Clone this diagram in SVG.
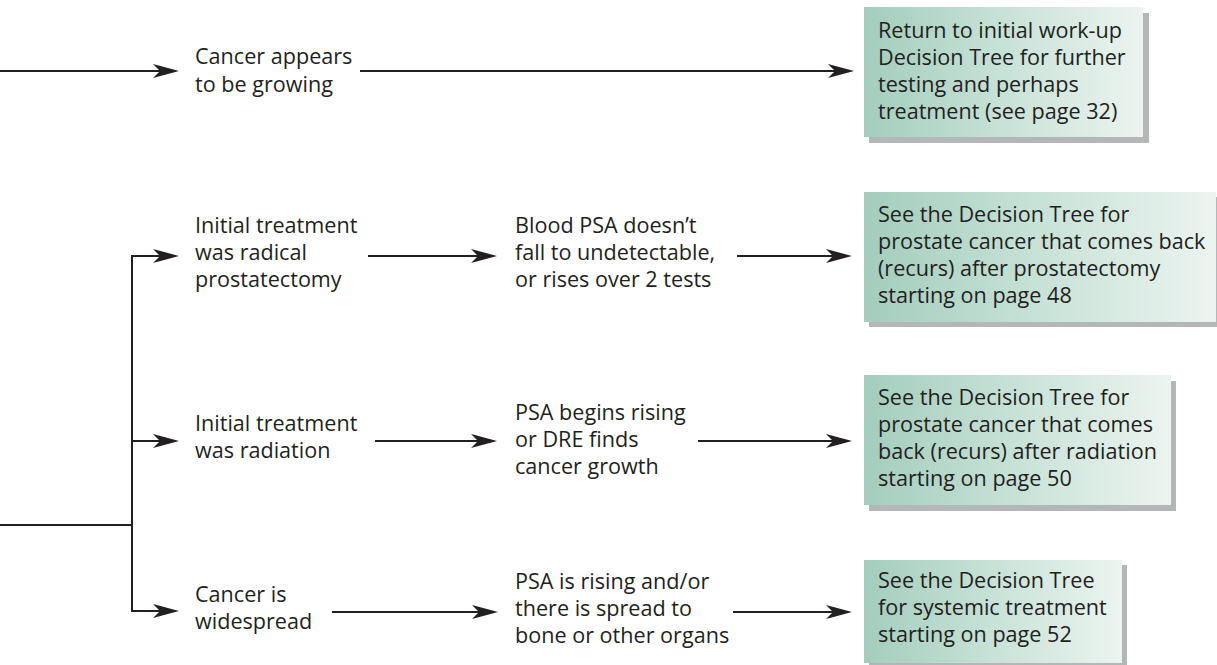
<svg xmlns="http://www.w3.org/2000/svg" width="1217" height="665" viewBox="0 0 1217 665">
<style>
text{font-family:"Open Sans","DejaVu Sans",sans-serif;font-size:21.6px;fill:#231f20}
.c{stroke:#231f20;stroke-width:2;fill:none}
.a{marker-end:url(#ah)}
.shadow{fill:#b5b6b8}
.box{fill:url(#g)}
</style>
<defs>
<linearGradient id="g" x1="0" y1="0" x2="1" y2="0">
<stop offset="0" stop-color="#a3cdbd"/>
<stop offset="0.5" stop-color="#c8e2d8"/>
<stop offset="1" stop-color="#ecf4f0"/>
</linearGradient>
<marker id="ah" markerUnits="userSpaceOnUse" markerWidth="28" markerHeight="18" viewBox="0 0 28 18" refX="17" refY="9" orient="auto">
<path d="M0,2 L26,9 L0,16 L7,9 Z" fill="#231f20"/>
</marker>
</defs>
<g id="connectors">
<line class="c a" x1="0" y1="71" x2="170" y2="71"/>
<line class="c a" x1="360" y1="71" x2="845" y2="71"/>
<line class="c" x1="0" y1="525" x2="132" y2="525"/>
<polyline class="c" points="132,256 132,611"/>
<line class="c a" x1="131" y1="256" x2="170" y2="256"/>
<line class="c a" x1="131" y1="441" x2="170" y2="441"/>
<line class="c a" x1="131" y1="611" x2="170" y2="611"/>
<line class="c a" x1="368" y1="256" x2="488" y2="256"/>
<line class="c a" x1="737" y1="256" x2="843" y2="256"/>
<line class="c a" x1="375" y1="441" x2="488" y2="441"/>
<line class="c a" x1="698" y1="441" x2="843" y2="441"/>
<line class="c a" x1="332" y1="612" x2="489" y2="612"/>
<line class="c a" x1="733" y1="612" x2="843" y2="612"/>
</g>
<g id="n-growing">
<text x="195" y="64">Cancer appears</text>
<text x="195" y="92">to be growing</text>
</g>
<g id="n-radical">
<text x="195" y="233">Initial treatment</text>
<text x="195" y="260">was radical</text>
<text x="195" y="287">prostatectomy</text>
</g>
<g id="n-radiation">
<text x="195" y="431">Initial treatment</text>
<text x="195" y="458">was radiation</text>
</g>
<g id="n-widespread">
<text x="195" y="602">Cancer is</text>
<text x="195" y="629">widespread</text>
</g>
<g id="n-psa-fall">
<text x="515" y="233">Blood PSA doesn’t</text>
<text x="515" y="260">fall to undetectable,</text>
<text x="515" y="287">or rises over 2 tests</text>
</g>
<g id="n-psa-rising">
<text x="515" y="420">PSA begins rising</text>
<text x="515" y="447">or DRE finds</text>
<text x="515" y="474">cancer growth</text>
</g>
<g id="n-psa-spread">
<text x="515" y="589">PSA is rising and/or</text>
<text x="515" y="616">there is spread to</text>
<text x="515" y="643">bone or other organs</text>
</g>
<g id="box-return">
<rect class="shadow" x="869" y="13" width="280" height="130"/>
<rect class="box" x="864" y="7" width="279" height="130"/>
<text x="878" y="38">Return to initial work-up</text>
<text x="878" y="65">Decision Tree for further</text>
<text x="878" y="92">testing and perhaps</text>
<text x="878" y="119">treatment (see page 32)</text>
</g>
<g id="box-prostatectomy">
<rect class="shadow" x="869" y="197" width="348" height="130"/>
<rect class="box" x="864" y="192" width="352" height="130"/>
<text x="878" y="222">See the Decision Tree for</text>
<text x="878" y="249">prostate cancer that comes back</text>
<text x="878" y="276">(recurs) after prostatectomy</text>
<text x="878" y="303">starting on page 48</text>
</g>
<g id="box-radiation">
<rect class="shadow" x="869" y="381" width="307" height="130"/>
<rect class="box" x="864" y="375" width="307" height="130"/>
<text x="878" y="405">See the Decision Tree for</text>
<text x="878" y="432">prostate cancer that comes</text>
<text x="878" y="459">back (recurs) after radiation</text>
<text x="878" y="486">starting on page 50</text>
</g>
<g id="box-systemic">
<rect class="shadow" x="869" y="565" width="258" height="103"/>
<rect class="box" x="864" y="560" width="258" height="103"/>
<text x="878" y="588">See the Decision Tree</text>
<text x="878" y="615">for systemic treatment</text>
<text x="878" y="642">starting on page 52</text>
</g>
</svg>
